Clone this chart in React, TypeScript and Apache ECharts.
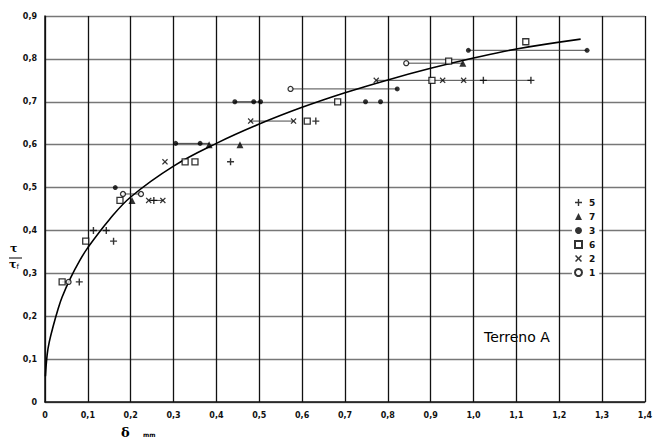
import React, { useEffect, useRef } from "react";
import * as echarts from "echarts";

// curve: [delta mm, tau/tau_f]
const curveX = [0.001, 0.005, 0.01, 0.02, 0.03, 0.04, 0.06, 0.08, 0.1, 0.15, 0.2, 0.3, 0.4, 0.5, 0.6, 0.7, 0.8, 0.9, 1.0, 1.1, 1.25];
const curveY = [0.06, 0.11, 0.14, 0.18, 0.215, 0.245, 0.29, 0.328, 0.36, 0.425, 0.478, 0.55, 0.603, 0.648, 0.687, 0.721, 0.751, 0.778, 0.802, 0.823, 0.846];

// test points per series
const s5 = [[0.08, 0.28], [0.16, 0.375], [0.113, 0.4], [0.143, 0.4], [0.254, 0.47], [0.433, 0.56], [0.632, 0.655], [1.023, 0.75], [1.134, 0.75]];
const s7 = [[0.203, 0.47], [0.383, 0.6], [0.455, 0.6], [0.975, 0.79]];
const s3 = [[0.164, 0.5], [0.305, 0.603], [0.362, 0.603], [0.443, 0.7], [0.487, 0.7], [0.503, 0.7], [0.748, 0.7], [0.783, 0.7], [0.822, 0.73], [0.988, 0.82], [1.265, 0.82]];
const s6 = [[0.04, 0.28], [0.095, 0.375], [0.175, 0.47], [0.327, 0.56], [0.35, 0.56], [0.612, 0.655], [0.683, 0.7], [0.903, 0.75], [0.942, 0.795], [1.122, 0.84]];
const s2 = [[0.242, 0.47], [0.275, 0.47], [0.28, 0.56], [0.48, 0.655], [0.58, 0.655], [0.773, 0.75], [0.928, 0.75], [0.977, 0.75]];
const s1 = [[0.055, 0.28], [0.182, 0.485], [0.224, 0.485], [0.573, 0.73], [0.843, 0.79]];

// horizontal ranges joining points: [x1, x2, y]
const ranges = [
  [0.04, 0.06, 0.28],
  [0.182, 0.224, 0.485],
  [0.242, 0.275, 0.47],
  [0.305, 0.383, 0.603],
  [0.443, 0.503, 0.7],
  [0.48, 0.58, 0.655],
  [0.573, 0.822, 0.73],
  [0.773, 1.134, 0.75],
  [0.843, 0.975, 0.79],
  [0.988, 1.265, 0.82],
];

const xTicks = { min: 0, max: 1.4, interval: 0.1 };
const yTicks = { min: 0, max: 0.9, interval: 0.1 };

const legendNames = ["5", "7", "3", "6", "2", "1"];

const PLUS = "path://M4,0H6V4H10V6H6V10H4V6H0V4H4Z";
const CROSS = "path://M1.5,0L5,3.5L8.5,0L10,1.5L6.5,5L10,8.5L8.5,10L5,6.5L1.5,10L0,8.5L3.5,5L0,1.5Z";

const fmt = (v: number) => (v === 0 ? "0" : v.toFixed(1).replace(".", ","));

export default function App() {
  const ref = useRef<HTMLDivElement>(null);
  useEffect(() => {
    if (!ref.current) return;
    const chart = echarts.init(ref.current, undefined, { renderer: "svg" });
    const labelStyle = { fontFamily: "DejaVu Sans", fontWeight: "bold" as const, fontSize: 8, color: "#111" };
    const scatter = (name: string, data: number[][], symbol: string, size: number, color: string, border?: string) => ({
      name,
      type: "scatter",
      data,
      symbol,
      symbolSize: size,
      itemStyle: border
        ? { color: "#fff", borderColor: border, borderWidth: 1.3 }
        : { color },
      z: 5,
    });
    chart.setOption({
      animation: false,
      backgroundColor: "#fff",
      grid: { left: 45, right: 4, top: 16, bottom: 40 },
      xAxis: {
        type: "value",
        ...xTicks,
        axisLine: { show: true, lineStyle: { color: "#111", width: 1.5 } },
        axisTick: { show: false },
        axisLabel: { ...labelStyle, margin: 9, formatter: fmt },
        splitLine: { show: true, lineStyle: { color: "#111", width: 1.3 } },
      },
      yAxis: {
        type: "value",
        ...yTicks,
        axisLine: { show: true, lineStyle: { color: "#111", width: 1.5 } },
        axisTick: { show: false },
        axisLabel: { ...labelStyle, margin: 8, formatter: fmt },
        splitLine: { show: true, lineStyle: { color: "#777", width: 1.4 } },
      },
      legend: {
        data: legendNames,
        orient: "vertical",
        left: 572,
        top: 196,
        itemWidth: 7,
        itemHeight: 7,
        itemGap: 5,
        backgroundColor: "#fff",
        padding: [2, 4, 2, 2],
        textStyle: { fontFamily: "DejaVu Sans", fontWeight: "bold", fontSize: 9, color: "#111", padding: [0, 0, 0, 2] },
      },
      series: [
        {
          name: "curve",
          type: "line",
          data: curveX.map((x, i) => [x, curveY[i]]),
          smooth: 0.4,
          showSymbol: false,
          lineStyle: { color: "#000", width: 1.6 },
          z: 4,
        },
        ...ranges.map((r, i) => ({
          name: "range" + i,
          type: "line",
          data: [[r[0], r[2]], [r[1], r[2]]],
          showSymbol: false,
          lineStyle: { color: "#333", width: 0.9 },
          z: 3,
        })),
        scatter("5", s5, PLUS, 7, "#000"),
        scatter("7", s7, "triangle", 7, "#000"),
        scatter("3", s3, "circle", 5, "#000"),
        scatter("6", s6, "rect", 6, "#000", "#000"),
        scatter("2", s2, CROSS, 6, "#000"),
        scatter("1", s1, "circle", 5, "#000", "#000"),
      ],
      graphic: [
        { type: "text", left: 484, top: 330, style: { text: "Terreno A", fontFamily: "DejaVu Sans", fontSize: 14, fill: "#000" } },
        { type: "text", left: 121, top: 426, style: { text: "δ", fontFamily: "DejaVu Serif", fontWeight: "bold", fontSize: 13, fill: "#000" } },
        { type: "text", left: 143, top: 431, style: { text: "mm", fontFamily: "DejaVu Sans", fontWeight: "bold", fontSize: 6, fill: "#000" } },
        {
          type: "text",
          left: 10,
          top: 243,
          style: {
            text: "{a|τ}",
            rich: { a: { fontFamily: "DejaVu Serif", fontWeight: "bold", fontSize: 11, fill: "#000" } },
          },
        },
        { type: "line", shape: { x1: 9, y1: 258, x2: 22, y2: 258 }, style: { stroke: "#000", lineWidth: 1 } },
        {
          type: "text",
          left: 9,
          top: 259,
          style: {
            text: "{a|τ}{b|f}",
            rich: {
              a: { fontFamily: "DejaVu Serif", fontWeight: "bold", fontSize: 11, fill: "#000" },
              b: { fontFamily: "DejaVu Sans", fontSize: 7, fill: "#000", padding: [4, 0, 0, 0] },
            },
          },
        },
      ],
    });
    return () => chart.dispose();
  }, []);
  return <div ref={ref} style={{ position: "fixed", left: 0, top: 0, width: 655, height: 442 }} />;
}
